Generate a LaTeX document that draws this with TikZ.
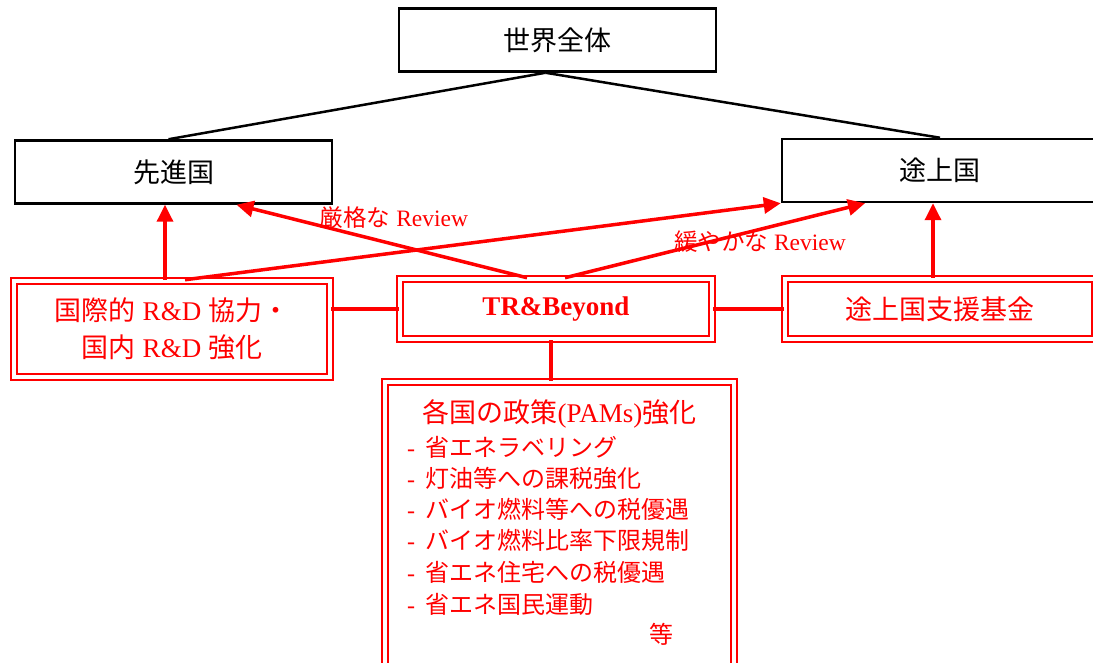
\documentclass[tikz,border=0pt]{standalone}
\usepackage{fontspec}
\setmainfont{Liberation Serif}
\newfontfamily\jp{Noto Sans CJK JP}
\usetikzlibrary{arrows.meta}
\begin{document}
\begin{tikzpicture}[x=1pt,y=-1pt,
  big/.style={font=\fontsize{27}{37}\selectfont},
  blk/.style={draw=black,line width=2.5pt,minimum width=#1,minimum height=63pt,inner sep=0pt,big},
  dbl/.style={draw=red,double=white,line width=2.5pt,double distance=3.5pt,inner sep=0pt,text=red,big},
  bline/.style={draw=black,line width=2.5pt},
  rline/.style={draw=red,line width=3.5pt},
  arr/.style={draw=red,line width=3.5pt,-{Triangle[length=17pt,width=16pt]}},
  lbl/.style={text=red,inner sep=0pt,font=\fontsize{23.5}{26}\selectfont},
  item/.style={text=red,inner sep=0pt,anchor=west,font=\fontsize{24}{28}\selectfont}
]
\useasboundingbox (0,0) rectangle (1093,663);
% black boxes
\node[blk=317pt] (world) at (557.5,40) {\jp 世界全体};
\node[blk=317pt] (dev) at (173.5,172) {\jp 先進国};
\node[blk=316pt] (dvg) at (940,170.5) {\jp 途上国};
% red double boxes
\node[dbl,minimum width=316pt,minimum height=96pt,align=center] (left) at (172,329)
  {{\jp 国際的} R\&D {\jp 協力・}\\{\jp 国内} R\&D {\jp 強化}};
\node[dbl,minimum width=312pt,minimum height=60pt,font=\fontsize{27}{30}\selectfont\bfseries] (tr) at (556,309) {\raisebox{-2pt}{TR\&Beyond}};
\node[dbl,minimum width=310pt,minimum height=60pt] (fund) at (940,309) {\jp 途上国支援基金};
\node[dbl,minimum width=349pt,minimum height=290pt] (bot) at (559.5,527) {};
% bottom box text
\node[text=red,inner sep=0pt,font=\fontsize{27}{30}\selectfont] (title) at (559.5,414) {{\jp 各国の政策}(PAMs){\jp 強化}};
\node[item] (l1) at (407,447) {-\hspace{10pt}{\jp 省エネラベリング}};
\node[item] (l2) at (407,478) {-\hspace{10pt}{\jp 灯油等への課税強化}};
\node[item] (l3) at (407,509) {-\hspace{10pt}{\jp バイオ燃料等への税優遇}};
\node[item] (l4) at (407,540) {-\hspace{10pt}{\jp バイオ燃料比率下限規制}};
\node[item] (l5) at (407,572) {-\hspace{10pt}{\jp 省エネ住宅への税優遇}};
\node[item] (l6) at (407,604) {-\hspace{10pt}{\jp 省エネ国民運動}};
\node[text=red,inner sep=0pt,font=\fontsize{24}{28}\selectfont] (etc) at (661,634) {\jp 等};
% review labels
\node[lbl] (strict) at (394,218) {{\jp 厳格な} Review};
\node[lbl] (mild) at (760,242) {{\jp 緩やかな} Review};
% black connectors
\draw[bline] ([xshift=-12pt]world.south) -- ([xshift=-5pt]dev.north);
\draw[bline] ([xshift=-12pt]world.south) -- (dvg.north);
% red connectors
\draw[rline] (tr.west -| left.east) -- (tr.west);
\draw[rline] (tr.east) -- (fund.west);
\draw[rline] ([xshift=-5pt]tr.south) -- ([xshift=-5pt]tr.south |- bot.north);
% arrows
\draw[arr] ([xshift=-7pt]left.north) -- ([xshift=-7pt]left.north |- dev.south);
\draw[arr] ([xshift=13pt]left.north) -- (dvg.south west);
\draw[arr] ([xshift=-29pt]tr.north) -- ([xshift=63pt]dev.south);
\draw[arr] ([xshift=9pt]tr.north) -- ([xshift=-75pt]dvg.south);
\draw[arr] ([xshift=-7pt]fund.north) -- ([xshift=-7pt]fund.north |- dvg.south);
\end{tikzpicture}
\end{document}
